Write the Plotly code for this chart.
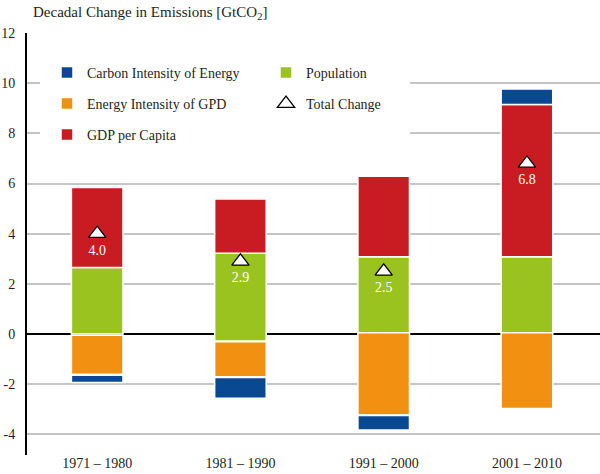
import plotly.graph_objects as go

# ---- data ----
categories = ["1971 – 1980", "1981 – 1990", "1991 – 2000", "2001 – 2010"]

population_low = [0.0, -0.28, 0.05, 0.05]
population_high = [2.65, 3.22, 3.08, 3.08]

gdp_low = [2.65, 3.22, 3.08, 3.08]
gdp_high = [5.84, 5.38, 6.29, 9.15]

energy_int_high = [-0.05, -0.31, 0.05, 0.05]
energy_int_low = [-1.60, -1.70, -3.23, -2.97]

carbon_int_high = [-1.64, -1.73, -3.25, 9.77]
carbon_int_low = [-1.93, -2.56, -3.82, 9.15]

total_change = [4.0, 2.9, 2.5, 6.8]
total_labels = ["4.0", "2.9", "2.5", "6.8"]

y_tickvals = [-4, -2, 0, 2, 4, 6, 8, 10, 12]
y_ticktext = ["-4", "-2", "0", "2", "4", "6", "8", "10", "12"]

# ---- styling ----
FONT = "Liberation Serif"
TXT = "#231f20"
BLUE = "#0b4892"
ORANGE = "#f29012"
RED = "#c81c22"
GREEN = "#9bc31f"
BAR_W = 0.36
X_RANGE = [-0.49, 3.51]
Y_RANGE = [-4.82, 12]

fig = go.Figure()


def seg(name, low, high, color, legend):
    fig.add_trace(go.Bar(
        x=categories,
        base=low,
        y=[h - l for l, h in zip(low, high)],
        name=name,
        width=BAR_W,
        marker=dict(color=color, line=dict(color="white", width=1.5)),
        legend=legend,
        hoverinfo="skip",
    ))


seg("Population", population_low, population_high, GREEN, "legend4")
seg("GDP per Capita", gdp_low, gdp_high, RED, "legend3")
seg("Energy Intensity of GPD", energy_int_low, energy_int_high, ORANGE, "legend2")
seg("Carbon Intensity of Energy", carbon_int_low, carbon_int_high, BLUE, "legend")

fig.add_trace(go.Scatter(
    x=categories,
    y=total_change,
    mode="markers+text",
    name="Total Change",
    text=total_labels,
    textposition="bottom center",
    textfont=dict(family=FONT, size=14, color="white"),
    marker=dict(symbol="triangle-up", size=15, color="white",
                line=dict(color="black", width=1.3)),
    legend="legend5",
    hoverinfo="skip",
))

# plot geometry in pixels
W, H = 600, 474
L, R, T, B = 27, 0, 33, 19
pw, ph = W - L - R, H - T - B


def px_x(px):
    return (px - L) / pw


def px_y(py):
    return (H - B - py) / ph


def px_to_xdata(px):
    return X_RANGE[0] + px_x(px) * (X_RANGE[1] - X_RANGE[0])


def px_to_ydata(py):
    return Y_RANGE[0] + px_y(py) * (Y_RANGE[1] - Y_RANGE[0])


leg_common = dict(
    font=dict(family=FONT, size=14, color=TXT),
    bgcolor="rgba(0,0,0,0)",
    borderwidth=0,
    xanchor="left",
    yanchor="middle",
    itemwidth=30,
)

fig.update_layout(
    width=W, height=H,
    margin=dict(l=L, r=R, t=T, b=B, autoexpand=False),
    paper_bgcolor="white",
    plot_bgcolor="white",
    barmode="overlay",
    font=dict(family=FONT, size=14, color=TXT),
    legend=dict(x=px_x(47), y=px_y(73), **leg_common),
    legend2=dict(x=px_x(47), y=px_y(104), **leg_common),
    legend3=dict(x=px_x(47), y=px_y(135), **leg_common),
    legend4=dict(x=px_x(266), y=px_y(73), **leg_common),
    legend5=dict(x=px_x(266), y=px_y(104), **leg_common),
    xaxis=dict(
        range=X_RANGE,
        showline=False,
        showgrid=False,
        zeroline=False,
        ticks="",
        ticklabelstandoff=-2,
        tickfont=dict(family=FONT, size=14, color=TXT),
        automargin=False,
        fixedrange=True,
    ),
    yaxis=dict(
        range=Y_RANGE,
        tickvals=y_tickvals,
        ticktext=y_ticktext,
        showgrid=True,
        gridcolor="#c4c4c4",
        gridwidth=1.5,
        zeroline=True,
        zerolinecolor="black",
        zerolinewidth=2,
        showline=True,
        linecolor="black",
        linewidth=2,
        ticks="",
        ticklabelstandoff=7,
        tickfont=dict(family=FONT, size=14, color=TXT),
        automargin=False,
        fixedrange=True,
    ),
    showlegend=True,
)

# white panel behind legend hiding the gridlines there
fig.add_shape(type="rect", xref="x", yref="y",
              x0=px_to_xdata(40), x1=px_to_xdata(410),
              y0=px_to_ydata(150), y1=Y_RANGE[1] + 0.3,
              fillcolor="white", line=dict(width=0), layer="between")
fig.add_shape(type="rect", xref="x", yref="y",
              x0=px_to_xdata(29), x1=X_RANGE[1],
              y0=Y_RANGE[1] - 0.1, y1=Y_RANGE[1] + 0.3,
              fillcolor="white", line=dict(width=0), layer="between")

fig.add_annotation(
    text="Decadal Change in Emissions [GtCO<sub>2</sub>]",
    xref="paper", yref="paper",
    x=px_x(31), y=px_y(13),
    xanchor="left", yanchor="middle",
    showarrow=False,
    font=dict(family=FONT, size=15, color=TXT),
)

fig.write_html(
    "out.html",
    config={"displayModeBar": False},
    post_script="document.body.style.margin='0';document.body.style.padding='0';",
)
